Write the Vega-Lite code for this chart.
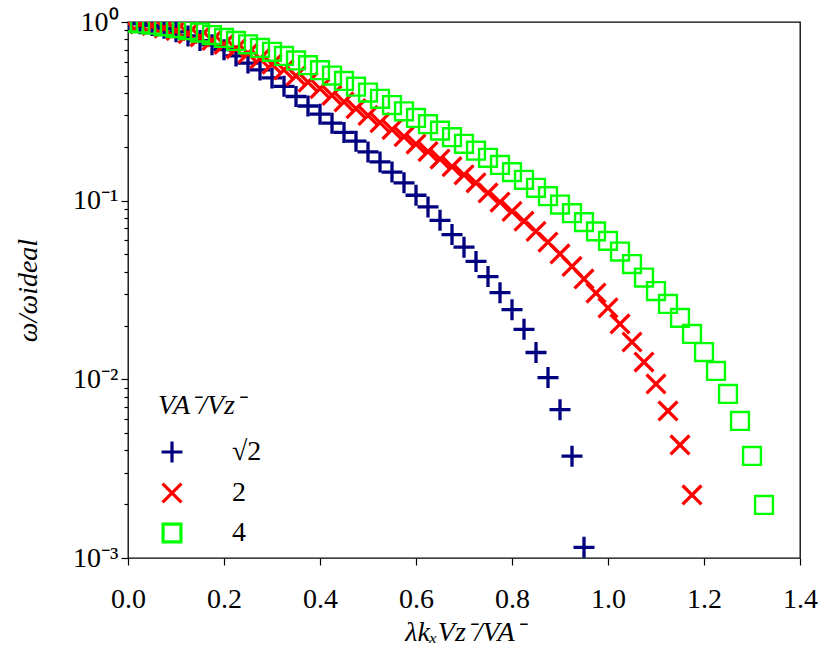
{
  "$schema": "https://vega.github.io/schema/vega-lite/v6.json",
  "width": 672,
  "height": 536,
  "autosize": {"type": "none"},
  "padding": {"left": 128, "top": 22, "right": 30, "bottom": 101},
  "background": "white",
  "config": {
    "view": {"stroke": "#000", "strokeWidth": 1.3},
    "font": "Liberation Serif",
    "axis": {"labelFont": "Liberation Serif", "titleFont": "Liberation Serif"},
    "legend": {"labelFont": "Liberation Serif", "titleFont": "Liberation Serif"}
  },
  "data": {
    "values": [
      {"x": 0, "y": 0.9931, "s": "√2"},
      {"x": 0.025, "y": 0.9772, "s": "√2"},
      {"x": 0.05, "y": 0.955, "s": "√2"},
      {"x": 0.075, "y": 0.9226, "s": "√2"},
      {"x": 0.1, "y": 0.881, "s": "√2"},
      {"x": 0.125, "y": 0.8356, "s": "√2"},
      {"x": 0.15, "y": 0.787, "s": "√2"},
      {"x": 0.175, "y": 0.7447, "s": "√2"},
      {"x": 0.2, "y": 0.6998, "s": "√2"},
      {"x": 0.225, "y": 0.6457, "s": "√2"},
      {"x": 0.25, "y": 0.5888, "s": "√2"},
      {"x": 0.275, "y": 0.5395, "s": "√2"},
      {"x": 0.3, "y": 0.4864, "s": "√2"},
      {"x": 0.325, "y": 0.4365, "s": "√2"},
      {"x": 0.35, "y": 0.3828, "s": "√2"},
      {"x": 0.375, "y": 0.3388, "s": "√2"},
      {"x": 0.4, "y": 0.3048, "s": "√2"},
      {"x": 0.425, "y": 0.2716, "s": "√2"},
      {"x": 0.45, "y": 0.241, "s": "√2"},
      {"x": 0.475, "y": 0.2153, "s": "√2"},
      {"x": 0.5, "y": 0.1875, "s": "√2"},
      {"x": 0.525, "y": 0.1648, "s": "√2"},
      {"x": 0.55, "y": 0.1445, "s": "√2"},
      {"x": 0.575, "y": 0.1259, "s": "√2"},
      {"x": 0.6, "y": 0.1072, "s": "√2"},
      {"x": 0.625, "y": 0.09226, "s": "√2"},
      {"x": 0.65, "y": 0.07762, "s": "√2"},
      {"x": 0.675, "y": 0.06457, "s": "√2"},
      {"x": 0.7, "y": 0.05495, "s": "√2"},
      {"x": 0.725, "y": 0.04571, "s": "√2"},
      {"x": 0.75, "y": 0.03758, "s": "√2"},
      {"x": 0.775, "y": 0.03055, "s": "√2"},
      {"x": 0.8, "y": 0.02455, "s": "√2"},
      {"x": 0.825, "y": 0.01905, "s": "√2"},
      {"x": 0.85, "y": 0.01413, "s": "√2"},
      {"x": 0.875, "y": 0.01023, "s": "√2"},
      {"x": 0.9, "y": 0.006761, "s": "√2"},
      {"x": 0.925, "y": 0.003715, "s": "√2"},
      {"x": 0.95, "y": 0.001148, "s": "√2"},
      {"x": 0, "y": 0.9908, "s": "2"},
      {"x": 0.025, "y": 0.975, "s": "2"},
      {"x": 0.05, "y": 0.9528, "s": "2"},
      {"x": 0.075, "y": 0.9247, "s": "2"},
      {"x": 0.1, "y": 0.8954, "s": "2"},
      {"x": 0.125, "y": 0.861, "s": "2"},
      {"x": 0.15, "y": 0.826, "s": "2"},
      {"x": 0.175, "y": 0.7889, "s": "2"},
      {"x": 0.2, "y": 0.7499, "s": "2"},
      {"x": 0.225, "y": 0.7079, "s": "2"},
      {"x": 0.25, "y": 0.6668, "s": "2"},
      {"x": 0.275, "y": 0.6237, "s": "2"},
      {"x": 0.3, "y": 0.5808, "s": "2"},
      {"x": 0.325, "y": 0.5395, "s": "2"},
      {"x": 0.35, "y": 0.4989, "s": "2"},
      {"x": 0.375, "y": 0.4603, "s": "2"},
      {"x": 0.4, "y": 0.4236, "s": "2"},
      {"x": 0.425, "y": 0.389, "s": "2"},
      {"x": 0.45, "y": 0.3573, "s": "2"},
      {"x": 0.475, "y": 0.3273, "s": "2"},
      {"x": 0.5, "y": 0.2999, "s": "2"},
      {"x": 0.525, "y": 0.2735, "s": "2"},
      {"x": 0.55, "y": 0.25, "s": "2"},
      {"x": 0.575, "y": 0.228, "s": "2"},
      {"x": 0.6, "y": 0.2075, "s": "2"},
      {"x": 0.625, "y": 0.1884, "s": "2"},
      {"x": 0.65, "y": 0.171, "s": "2"},
      {"x": 0.675, "y": 0.1549, "s": "2"},
      {"x": 0.7, "y": 0.1396, "s": "2"},
      {"x": 0.725, "y": 0.1259, "s": "2"},
      {"x": 0.75, "y": 0.1104, "s": "2"},
      {"x": 0.775, "y": 0.09817, "s": "2"},
      {"x": 0.8, "y": 0.0871, "s": "2"},
      {"x": 0.825, "y": 0.07674, "s": "2"},
      {"x": 0.85, "y": 0.0673, "s": "2"},
      {"x": 0.875, "y": 0.05861, "s": "2"},
      {"x": 0.9, "y": 0.05035, "s": "2"},
      {"x": 0.925, "y": 0.04285, "s": "2"},
      {"x": 0.95, "y": 0.03648, "s": "2"},
      {"x": 0.975, "y": 0.03041, "s": "2"},
      {"x": 1.0, "y": 0.02512, "s": "2"},
      {"x": 1.025, "y": 0.02042, "s": "2"},
      {"x": 1.05, "y": 0.01618, "s": "2"},
      {"x": 1.075, "y": 0.0125, "s": "2"},
      {"x": 1.1, "y": 0.009419, "s": "2"},
      {"x": 1.125, "y": 0.006653, "s": "2"},
      {"x": 1.15, "y": 0.004295, "s": "2"},
      {"x": 1.175, "y": 0.002254, "s": "2"},
      {"x": 0, "y": 0.9931, "s": "4"},
      {"x": 0.025, "y": 0.9817, "s": "4"},
      {"x": 0.05, "y": 0.9661, "s": "4"},
      {"x": 0.075, "y": 0.9462, "s": "4"},
      {"x": 0.1, "y": 0.9247, "s": "4"},
      {"x": 0.125, "y": 0.8995, "s": "4"},
      {"x": 0.15, "y": 0.873, "s": "4"},
      {"x": 0.175, "y": 0.8453, "s": "4"},
      {"x": 0.2, "y": 0.8147, "s": "4"},
      {"x": 0.225, "y": 0.7834, "s": "4"},
      {"x": 0.25, "y": 0.7499, "s": "4"},
      {"x": 0.275, "y": 0.7161, "s": "4"},
      {"x": 0.3, "y": 0.6808, "s": "4"},
      {"x": 0.325, "y": 0.6457, "s": "4"},
      {"x": 0.35, "y": 0.6095, "s": "4"},
      {"x": 0.375, "y": 0.5728, "s": "4"},
      {"x": 0.4, "y": 0.537, "s": "4"},
      {"x": 0.425, "y": 0.5012, "s": "4"},
      {"x": 0.45, "y": 0.4677, "s": "4"},
      {"x": 0.475, "y": 0.4345, "s": "4"},
      {"x": 0.5, "y": 0.4027, "s": "4"},
      {"x": 0.525, "y": 0.3715, "s": "4"},
      {"x": 0.55, "y": 0.3428, "s": "4"},
      {"x": 0.575, "y": 0.3162, "s": "4"},
      {"x": 0.6, "y": 0.2904, "s": "4"},
      {"x": 0.625, "y": 0.2679, "s": "4"},
      {"x": 0.65, "y": 0.2466, "s": "4"},
      {"x": 0.675, "y": 0.2265, "s": "4"},
      {"x": 0.7, "y": 0.208, "s": "4"},
      {"x": 0.725, "y": 0.1905, "s": "4"},
      {"x": 0.75, "y": 0.1738, "s": "4"},
      {"x": 0.775, "y": 0.1585, "s": "4"},
      {"x": 0.8, "y": 0.1445, "s": "4"},
      {"x": 0.825, "y": 0.1309, "s": "4"},
      {"x": 0.85, "y": 0.118, "s": "4"},
      {"x": 0.875, "y": 0.1059, "s": "4"},
      {"x": 0.9, "y": 0.09506, "s": "4"},
      {"x": 0.925, "y": 0.08511, "s": "4"},
      {"x": 0.95, "y": 0.07586, "s": "4"},
      {"x": 0.975, "y": 0.0673, "s": "4"},
      {"x": 1.0, "y": 0.05957, "s": "4"},
      {"x": 1.025, "y": 0.05188, "s": "4"},
      {"x": 1.05, "y": 0.04416, "s": "4"},
      {"x": 1.075, "y": 0.03715, "s": "4"},
      {"x": 1.1, "y": 0.03119, "s": "4"},
      {"x": 1.125, "y": 0.02642, "s": "4"},
      {"x": 1.15, "y": 0.02208, "s": "4"},
      {"x": 1.175, "y": 0.01795, "s": "4"},
      {"x": 1.2, "y": 0.01422, "s": "4"},
      {"x": 1.225, "y": 0.01114, "s": "4"},
      {"x": 1.25, "y": 0.008279, "s": "4"},
      {"x": 1.275, "y": 0.005848, "s": "4"},
      {"x": 1.3, "y": 0.003724, "s": "4"},
      {"x": 1.325, "y": 0.001982, "s": "4"}
    ]
  },
  "mark": {"type": "point", "filled": false, "clip": true, "opacity": 1, "size": 441},
  "encoding": {
    "x": {
      "field": "x",
      "type": "quantitative",
      "scale": {"domain": [0, 1.4], "nice": false, "zero": false},
      "axis": {
        "title": "λkₓVz⁻/VA⁻",
        "values": [0, 0.2, 0.4, 0.6, 0.8, 1.0, 1.2, 1.4],
        "format": ".1f",
        "grid": false,
        "domain": false,
        "tickSize": 7,
        "tickWidth": 1.2,
        "tickColor": "#000",
        "labelFontSize": 28,
        "labelColor": "#000",
        "labelPadding": 20,
        "labelFlush": false,
        "titleFontSize": 28,
        "titleFontWeight": "normal",
        "titleFontStyle": "italic",
        "titleColor": "#000",
        "titlePadding": 5
      }
    },
    "y": {
      "field": "y",
      "type": "quantitative",
      "scale": {"type": "log", "domain": [0.001, 1], "nice": false},
      "axis": {
        "title": "ω/ωideal",
        "values": [0.001, 0.002, 0.003, 0.004, 0.005, 0.006, 0.007, 0.008, 0.009, 0.01, 0.02, 0.03, 0.04, 0.05, 0.06, 0.07, 0.08, 0.09, 0.1, 0.2, 0.3, 0.4, 0.5, 0.6, 0.7, 0.8, 0.9, 1],
        "labelExpr": "datum.value == 1 ? '10⁰' : datum.value == 0.1 ? '10⁻¹' : datum.value == 0.01 ? '10⁻²' : datum.value == 0.001 ? '10⁻³' : ''",
        "labelOverlap": false,
        "labelFlush": false,
        "grid": false,
        "domain": false,
        "tickSize": {"condition": {"test": "datum.value == 1 || datum.value == 0.1 || datum.value == 0.01 || datum.value == 0.001", "value": 7}, "value": 4},
        "tickWidth": 1.2,
        "tickColor": "#000",
        "labelFontSize": 28,
        "labelColor": "#000",
        "labelPadding": 3,
        "titleFontSize": 28,
        "titleFontWeight": "normal",
        "titleFontStyle": "italic",
        "titleColor": "#000",
        "titlePadding": 30
      }
    },
    "color": {
      "field": "s",
      "type": "nominal",
      "scale": {"domain": ["√2", "2", "4"], "range": ["#000080", "#ff0000", "#00ff00"]},
      "legend": {
        "orient": "none",
        "legendX": 30,
        "legendY": 370,
        "padding": 0,
        "title": "VA⁻/Vz⁻",
        "titleFontSize": 28,
        "titleFontStyle": "italic",
        "titleFontWeight": "normal",
        "titleColor": "#000",
        "titlePadding": 18,
        "labelFontSize": 28,
        "labelColor": "#000",
        "labelOffset": 46,
        "symbolSize": 441,
        "symbolStrokeWidth": 3.2,
        "rowPadding": 8
      }
    },
    "shape": {
      "field": "s",
      "type": "nominal",
      "scale": {"domain": ["√2", "2", "4"], "range": ["M-1,0H1M0,-1V1", "M-0.9,-0.9L0.9,0.9M-0.9,0.9L0.9,-0.9", "M-0.85,-0.85H0.85V0.85H-0.85Z"]}
    },
    "strokeWidth": {"condition": {"test": "datum.s == '4'", "value": 2.4}, "value": 3.3}
  }
}
